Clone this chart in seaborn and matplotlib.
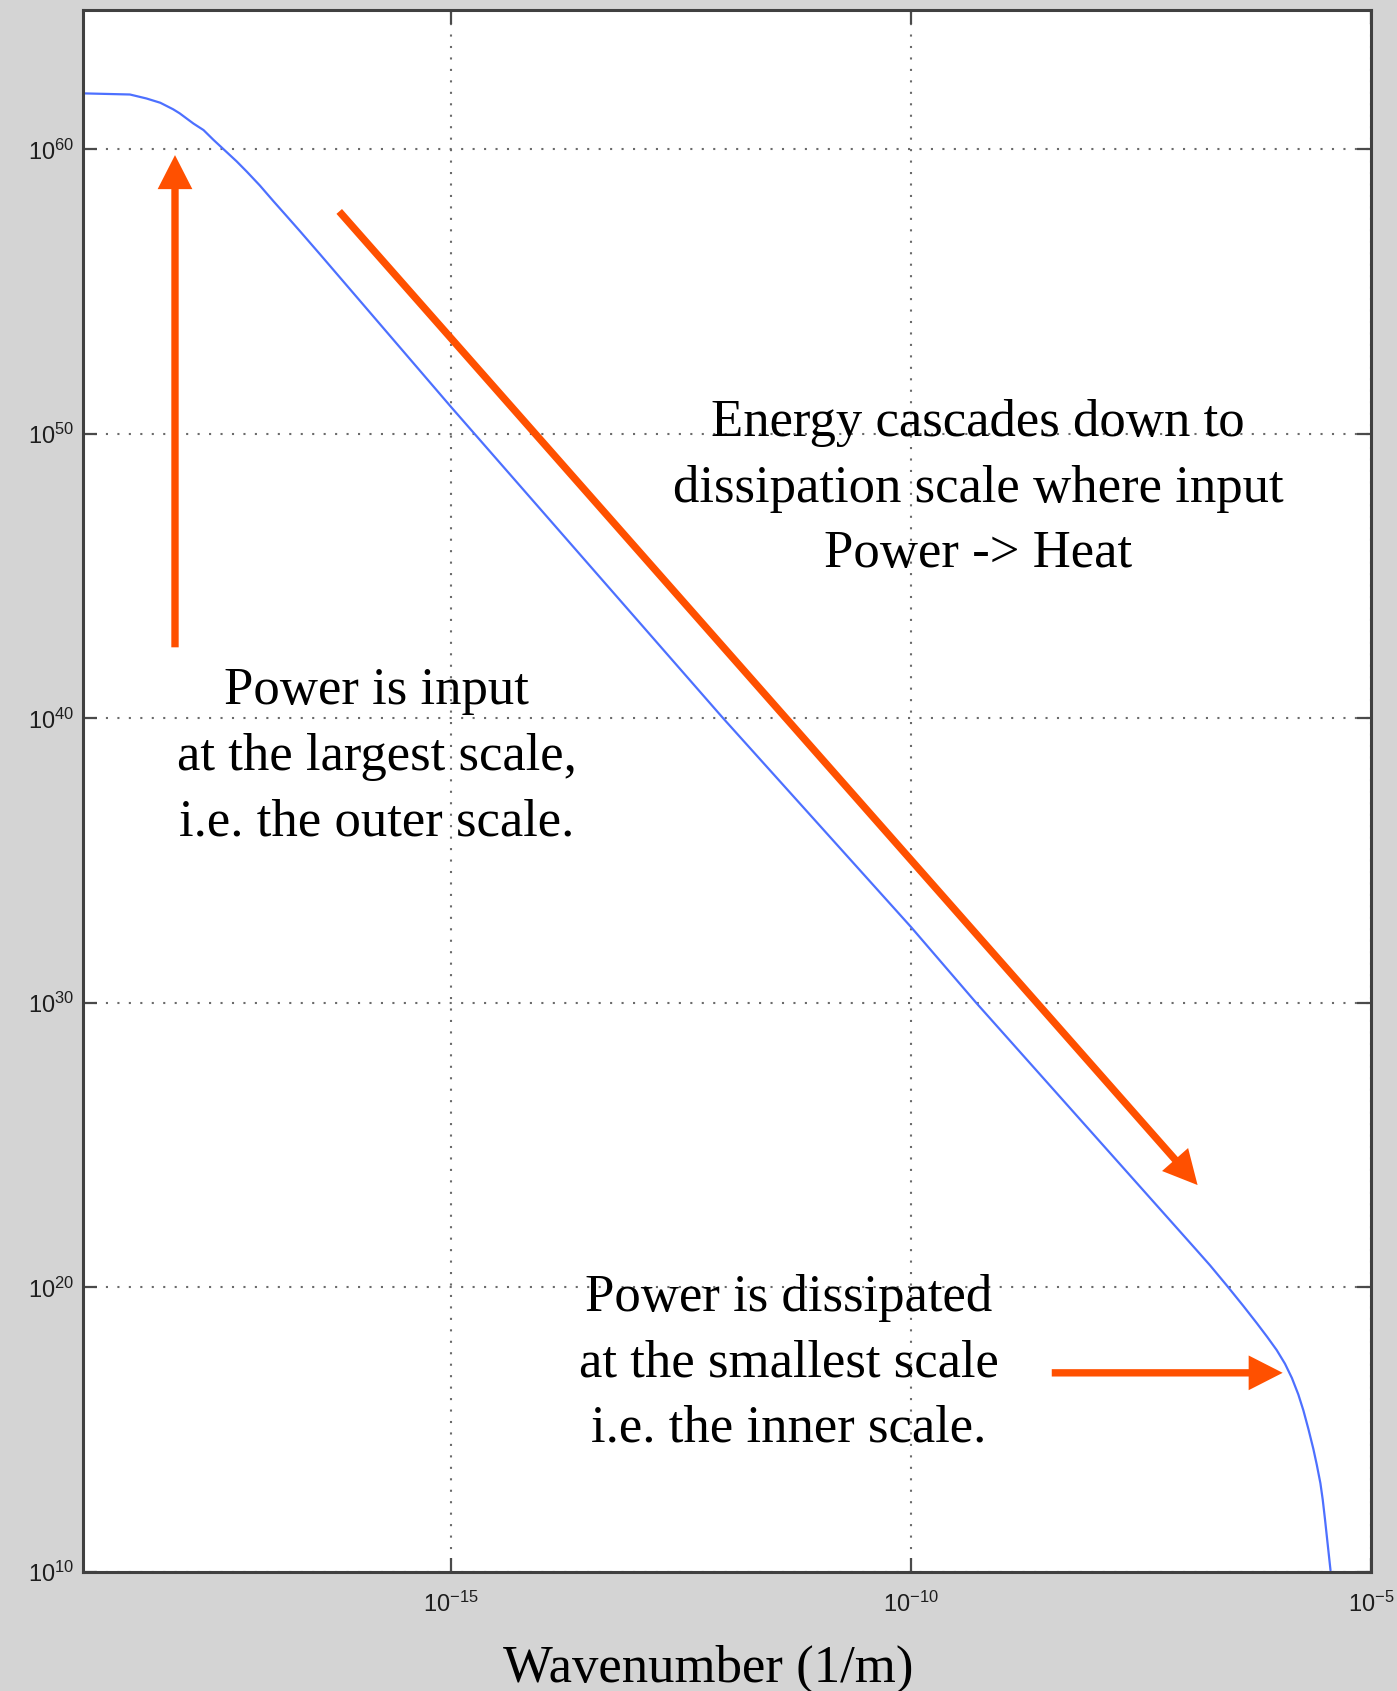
import numpy as np
import pandas as pd
import matplotlib
matplotlib.use("Agg")
import matplotlib.pyplot as plt
import seaborn as sns
from matplotlib.ticker import FuncFormatter, NullLocator

# spectrum (log10 of wavenumber and of power)
log_k = [-19.0, -18.49, -18.31, -18.16, -18.02, -17.95, -17.80, -17.69,
         -17.58, -17.47, -17.33, -17.22, -17.08, -16.93, -16.79, -16.64,
         -16.42, -15.0, -12.04, -10.0, -9.29, -6.895, -6.75, -6.57,
         -6.39, -6.24, -6.13, -6.025, -5.935, -5.86, -5.79, -5.735,
         -5.68, -5.627, -5.59, -5.55, -5.525, -5.50, -5.475, -5.44]
log_p = [61.97, 61.93, 61.79, 61.64, 61.41, 61.27, 60.91, 60.68,
         60.33, 60.0, 59.58, 59.22, 58.74, 58.18, 57.67, 57.12,
         56.30, 50.95, 40.0, 32.67, 30.0, 21.31, 20.78, 20.08,
         19.36, 18.74, 18.27, 17.80, 17.32, 16.82, 16.24, 15.68,
         15.02, 14.33, 13.78, 13.12, 12.55, 11.85, 11.1, 10.06]

x_ticks = [-15, -10, -5]
y_ticks = [10, 20, 30, 40, 50, 60]

df = pd.DataFrame({"k": np.power(10.0, log_k), "power": np.power(10.0, log_p)})

sns.set_theme(style="ticks")
plt.rcParams["font.family"] = ["Liberation Serif", "DejaVu Serif"]
plt.rcParams["mathtext.fontset"] = "custom"
plt.rcParams["mathtext.rm"] = "Liberation Sans"
plt.rcParams["mathtext.it"] = "Liberation Sans:italic"
plt.rcParams["mathtext.bf"] = "Liberation Sans:bold"

W, H = 1397, 1691
fig = plt.figure(figsize=(W / 100, H / 100), dpi=100, facecolor="#d4d4d4")
ax = fig.add_axes([83 / W, 1 - 1572 / H, (1371 - 83) / W, (1572 - 10) / H])
ax.set_facecolor("white")

sns.lineplot(data=df, x="k", y="power", ax=ax, color="#4d70ff",
             linewidth=1.6, sort=False, estimator=None, legend=False)

ax.set_xscale("log")
ax.set_yscale("log")
ax.set_xlim(1e-19, 1e-5)
ax.set_ylim(1e10, 10 ** 64.9)
ax.set_xticks([10.0 ** e for e in x_ticks])
ax.set_yticks([10.0 ** e for e in y_ticks])
ax.xaxis.set_minor_locator(NullLocator())
ax.yaxis.set_minor_locator(NullLocator())
fmt = FuncFormatter(lambda v, pos: r"$10^{%d}$" % round(np.log10(v)))
ax.xaxis.set_major_formatter(fmt)
ax.yaxis.set_major_formatter(fmt)

ax.grid(True, which="major", color="#6a6a6a", linestyle=(0, (1, 4.5)), linewidth=1.5)
ax.tick_params(which="major", direction="in", top=True, right=True,
               length=10, width=1.6, color="#4a4a4a", labelsize=17,
               labelcolor="#1e1e1e")
ax.tick_params(axis="y", pad=6)
ax.tick_params(axis="x", pad=14)
for s in ax.spines.values():
    s.set_color("#404040")
    s.set_linewidth(2.2)
ax.set_xlabel("")
ax.set_ylabel("")

orange = "#ff5000"
arrow_kw = dict(width=5.3, headwidth=25, headlength=24.5, shrink=0,
                color=orange, lw=0)
ax.annotate("", xy=(10 ** -18.0, 10 ** 59.8), xytext=(10 ** -18.0, 10 ** 42.5),
            arrowprops=arrow_kw, zorder=4)
ax.annotate("", xy=(10 ** -6.885, 10 ** 23.6), xytext=(10 ** -16.215, 10 ** 57.82),
            arrowprops=arrow_kw, zorder=4)
ax.annotate("", xy=(10 ** -5.96, 10 ** 17.0), xytext=(10 ** -8.47, 10 ** 17.0),
            arrowprops=arrow_kw, zorder=4)

# va="baseline" lines up the last line of each block
txt = dict(ha="center", va="baseline", multialignment="center",
           fontsize=38, linespacing=1.47, color="black")
fig.text(978 / W, 1 - 567 / H,
         "Energy cascades down to\ndissipation scale where input\nPower -> Heat", **txt)
fig.text(376.5 / W, 1 - 835 / H,
         "Power is input\nat the largest scale,\ni.e. the outer scale.", **txt)
fig.text(789 / W, 1 - 1442 / H,
         "Power is dissipated\nat the smallest scale\ni.e. the inner scale.", **txt)
fig.text(708.5 / W, 1 - 1681.7 / H, "Wavenumber (1/m)",
         ha="center", va="baseline", fontsize=38, color="black")

fig.savefig("out.png", dpi=100, facecolor=fig.get_facecolor())
